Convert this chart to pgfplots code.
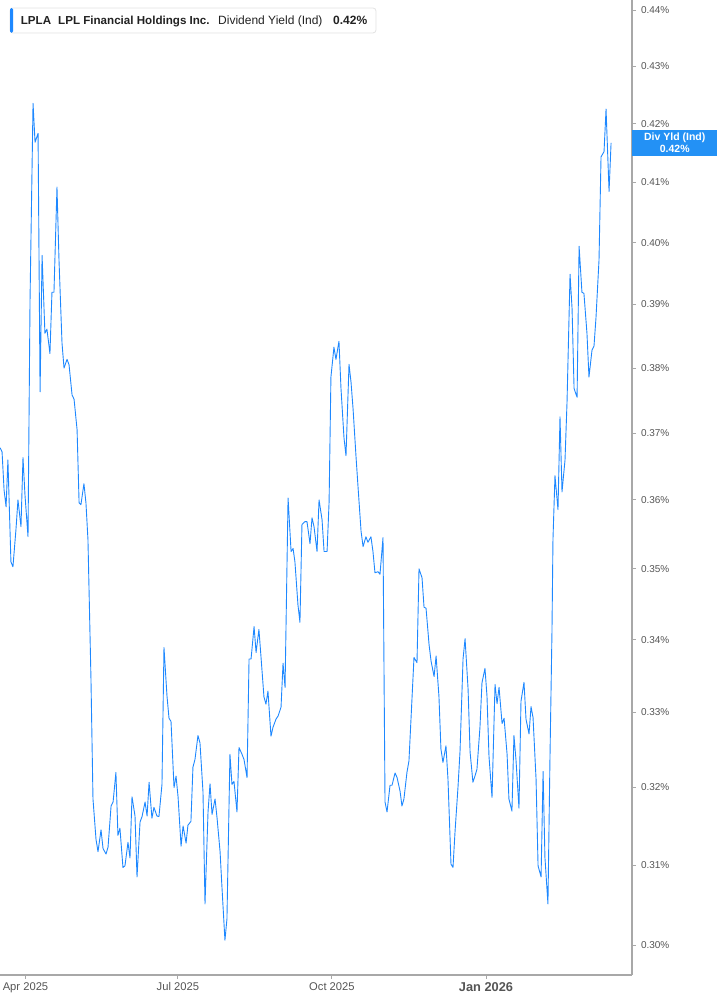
\documentclass[border=0pt]{standalone}
\usepackage{fontspec}
\setmainfont{Liberation Sans}
\usepackage{pgfplots}
\usepackage{pgfplotstable}
\pgfplotsset{compat=1.18}
\definecolor{lineblue}{HTML}{1E88FF}
\definecolor{boxblue}{HTML}{2391F5}
\definecolor{axisgray}{HTML}{A8A8A8}
\definecolor{labelgray}{HTML}{555555}
\definecolor{bordergray}{HTML}{E2E2E2}
\definecolor{textdark}{HTML}{222222}

% d = calendar days since 1 Apr 2025, v = dividend yield in percent
\pgfplotstableread{
d v
-15.2 0.3678
-14.0 0.3672
-12.8 0.3615
-11.6 0.3590
-10.5 0.3660
-8.7 0.3510
-7.5 0.3503
-5.7 0.3557
-4.5 0.3600
-2.7 0.3561
-1.5 0.3663
-0.3 0.3607
1.5 0.3546
2.7 0.3907
4.5 0.4235
5.7 0.4168
7.5 0.4183
8.7 0.3763
9.9 0.3980
11.6 0.3855
12.8 0.3861
14.6 0.3823
15.8 0.3920
17.0 0.3920
18.8 0.4092
20.0 0.3972
21.8 0.3839
23.0 0.3800
24.8 0.3814
26.0 0.3805
27.8 0.3758
29.0 0.3752
30.8 0.3705
32.0 0.3596
33.1 0.3593
34.9 0.3624
36.1 0.3596
37.3 0.3542
39.1 0.3345
40.3 0.3185
42.1 0.3133
43.3 0.3117
45.1 0.3145
46.3 0.3121
48.1 0.3114
49.3 0.3123
51.1 0.3176
52.3 0.3181
54.0 0.3220
55.2 0.3138
56.4 0.3147
58.2 0.3097
59.4 0.3099
61.2 0.3129
62.4 0.3109
63.6 0.3188
65.4 0.3163
66.6 0.3085
68.4 0.3155
69.6 0.3162
71.4 0.3181
72.6 0.3163
73.8 0.3207
75.5 0.3160
76.7 0.3174
78.5 0.3163
79.7 0.3162
81.5 0.3204
82.7 0.3389
84.5 0.3322
85.7 0.3292
86.9 0.3288
88.7 0.3200
89.9 0.3215
91.1 0.3188
92.9 0.3124
94.1 0.3150
95.9 0.3128
97.0 0.3151
98.8 0.3156
100.0 0.3227
101.2 0.3237
103.0 0.3269
104.2 0.3259
106.0 0.3194
107.2 0.3051
109.0 0.3168
110.2 0.3205
111.4 0.3165
113.2 0.3185
114.4 0.3160
116.2 0.3117
117.3 0.3073
119.1 0.3006
120.3 0.3032
122.1 0.3244
123.3 0.3204
124.5 0.3208
126.3 0.3168
127.5 0.3253
129.3 0.3244
130.5 0.3237
132.3 0.3213
133.5 0.3373
134.7 0.3373
136.5 0.3418
137.7 0.3382
139.4 0.3414
140.6 0.3377
142.4 0.3321
143.6 0.3311
144.8 0.3329
146.6 0.3268
147.8 0.3280
149.6 0.3291
150.8 0.3295
152.6 0.3307
153.8 0.3367
155.0 0.3334
156.8 0.3603
158.6 0.3525
159.8 0.3529
160.9 0.3510
162.7 0.3449
163.9 0.3424
165.1 0.3564
166.9 0.3568
168.1 0.3568
169.9 0.3536
171.1 0.3574
172.3 0.3561
174.1 0.3525
175.3 0.3600
177.1 0.3571
178.3 0.3525
180.1 0.3525
181.3 0.3597
182.4 0.3786
184.2 0.3833
185.4 0.3814
187.2 0.3842
188.4 0.3769
190.2 0.3693
191.4 0.3666
193.2 0.3806
194.4 0.3778
195.6 0.3738
197.4 0.3664
198.6 0.3619
200.4 0.3554
201.6 0.3532
203.3 0.3546
204.5 0.3538
206.3 0.3546
207.5 0.3525
208.7 0.3494
210.5 0.3496
211.7 0.3492
213.5 0.3545
214.7 0.3181
215.9 0.3168
217.7 0.3203
218.9 0.3203
220.7 0.3219
221.9 0.3213
223.7 0.3195
224.8 0.3176
226.0 0.3185
227.8 0.3220
229.0 0.3235
230.8 0.3318
232.0 0.3375
233.8 0.3368
235.0 0.3500
236.8 0.3487
238.0 0.3445
239.2 0.3444
241.0 0.3393
242.2 0.3370
244.0 0.3349
245.2 0.3377
246.9 0.3322
248.1 0.3251
249.3 0.3233
251.1 0.3255
252.3 0.3211
254.1 0.3101
255.3 0.3097
256.5 0.3142
258.3 0.3201
259.5 0.3248
261.3 0.3373
262.5 0.3401
264.3 0.3332
265.5 0.3247
267.2 0.3207
268.4 0.3215
269.6 0.3224
271.4 0.3280
272.6 0.3340
274.4 0.3360
275.6 0.3322
276.8 0.3241
278.6 0.3187
280.4 0.3338
281.6 0.3312
282.8 0.3334
284.6 0.3285
285.8 0.3292
287.6 0.3244
288.7 0.3185
290.5 0.3169
291.7 0.3269
292.9 0.3237
294.7 0.3173
295.9 0.3315
297.7 0.3341
298.9 0.3291
300.7 0.3271
301.9 0.3308
303.1 0.3293
304.9 0.3211
306.1 0.3099
307.9 0.3085
309.1 0.3221
310.2 0.3110
312.0 0.3051
313.2 0.3237
314.4 0.3410
315.0 0.3542
316.2 0.3636
318.0 0.3586
319.2 0.3725
320.4 0.3612
322.2 0.3660
323.4 0.3748
325.2 0.3949
326.4 0.3894
327.6 0.3768
329.4 0.3755
330.6 0.3995
332.3 0.3920
333.5 0.3918
335.3 0.3855
336.5 0.3786
338.3 0.3828
339.5 0.3834
340.7 0.3880
342.5 0.3972
343.7 0.4143
345.5 0.4152
346.7 0.4225
348.5 0.4085
349.7 0.4167
}\yielddata

\begin{document}
\begin{tikzpicture}[x=1pt,y=1pt]
\useasboundingbox (0,0) rectangle (717,1005);
\begin{axis}[
  at={(0pt,30pt)}, anchor=south west,
  width=632pt, height=975pt, scale only axis,
  ymode=log,
  xmin=-15.23, xmax=362.2, ymin=0.29634, ymax=0.4418,
  axis x line*=bottom, axis y line*=right,
  axis line style={-, draw=axisgray, line width=1.4pt},
  xtick={0,91,183,275},
  xticklabels={Apr 2025, Jul 2025, Oct 2025, {\fontsize{12.8}{14}\selectfont\bfseries Jan 2026}},
  ytick={0.30,0.31,0.32,0.33,0.34,0.35,0.36,0.37,0.38,0.39,0.40,0.41,0.42,0.43,0.44},
  yticklabels={0.30\%,0.31\%,0.32\%,0.33\%,0.34\%,0.35\%,0.36\%,0.37\%,0.38\%,0.39\%,0.40\%,0.41\%,0.42\%,0.43\%,0.44\%},
  yminorticks=false, xminorticks=false,
  tick align=outside,
  major tick length=4pt,
  tick style={draw=axisgray, line width=0.9pt},
  xticklabel style={font=\fontsize{11.2}{13}\selectfont, text=labelgray},
  yticklabel style={font=\fontsize{10}{12}\selectfont, text=labelgray, anchor=west, xshift=1.5pt},
  clip=false,
]
\addplot[lineblue, line width=0.9pt, line join=round] table[x=d,y=v]{\yielddata};
\coordinate (last) at (axis cs:362.2,0.4167);
\end{axis}
\node[fill=boxblue, text=white, anchor=west, minimum width=85pt, minimum height=26pt, inner sep=0pt, align=center, font=\fontsize{10.5}{12}\selectfont\bfseries] at (last) {Div Yld (Ind)\\0.42\%};
% header legend box
\draw[bordergray, line width=0.8pt, rounded corners=3pt, fill=white] (10,972) rectangle (376,997);
\fill[lineblue, rounded corners=1.5pt] (10,972) rectangle (13,997);
\node[anchor=base west, inner sep=0pt, font=\fontsize{11.6}{14}\selectfont\bfseries, text=textdark] at (20.7,980) {LPLA};
\node[anchor=base west, inner sep=0pt, font=\fontsize{11.6}{14}\selectfont\bfseries, text=textdark] at (58,980) {LPL Financial Holdings Inc.};
\node[anchor=base west, inner sep=0pt, font=\fontsize{12}{14}\selectfont, text=textdark] at (218,980) {Dividend Yield (Ind)};
\node[anchor=base west, inner sep=0pt, font=\fontsize{12}{14}\selectfont\bfseries, text=textdark] at (333,980) {0.42\%};
\end{tikzpicture}
\end{document}
